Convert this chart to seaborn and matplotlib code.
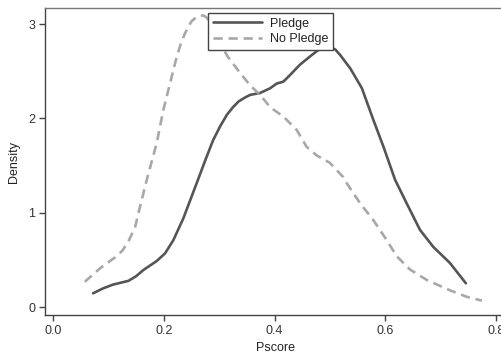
import numpy as np
import pandas as pd
import matplotlib
matplotlib.use("Agg")
import matplotlib.pyplot as plt
import seaborn as sns

# Data (kernel density curves)
pledge_x = [0.072, 0.090, 0.108, 0.136, 0.150, 0.163, 0.187, 0.202, 0.217, 0.235, 0.259,
            0.275, 0.289, 0.302, 0.314, 0.325, 0.335, 0.346, 0.356, 0.374, 0.392, 0.404,
            0.416, 0.428, 0.446, 0.467, 0.478, 0.490, 0.500, 0.510, 0.519, 0.537, 0.558,
            0.579, 0.597, 0.618, 0.639, 0.663, 0.687, 0.717, 0.746]
pledge_y = [0.148, 0.20, 0.24, 0.28, 0.33, 0.395, 0.49, 0.57, 0.71, 0.94, 1.31,
            1.56, 1.77, 1.92, 2.04, 2.12, 2.18, 2.22, 2.25, 2.27, 2.32, 2.37,
            2.39, 2.46, 2.57, 2.67, 2.72, 2.75, 2.76, 2.73, 2.67, 2.53, 2.32,
            1.98, 1.70, 1.35, 1.10, 0.82, 0.64, 0.47, 0.254]

nopledge_x = [0.057, 0.084, 0.112, 0.125, 0.136, 0.148, 0.157, 0.169, 0.187, 0.199, 0.211,
              0.223, 0.231, 0.238, 0.245, 0.250, 0.258, 0.265, 0.272, 0.277, 0.286, 0.295,
              0.305, 0.316, 0.338, 0.356, 0.374, 0.392, 0.416, 0.440, 0.458, 0.476, 0.500,
              0.524, 0.531, 0.555, 0.579, 0.603, 0.621, 0.645, 0.675, 0.717, 0.748, 0.775]
nopledge_y = [0.27, 0.41, 0.53, 0.60, 0.70, 0.85, 1.07, 1.35, 1.74, 2.09, 2.37,
              2.65, 2.80, 2.90, 2.98, 3.03, 3.07, 3.09, 3.09, 3.07, 3.00, 2.88,
              2.76, 2.65, 2.48, 2.35, 2.25, 2.12, 2.02, 1.88, 1.70, 1.61, 1.53,
              1.38, 1.31, 1.10, 0.92, 0.71, 0.54, 0.40, 0.29, 0.18, 0.11, 0.07]

groups = ["Pledge", "No Pledge"]
x_ticks = [0.0, 0.2, 0.4, 0.6, 0.8]
y_ticks = [0, 1, 2, 3]

df = pd.concat([
    pd.DataFrame({"Pscore": pledge_x, "Density": pledge_y, "group": groups[0]}),
    pd.DataFrame({"Pscore": nopledge_x, "Density": nopledge_y, "group": groups[1]}),
], ignore_index=True)

sns.set_style("white")
plt.rcParams["font.family"] = ["Liberation Sans", "DejaVu Sans"]

fig = plt.figure(figsize=(5.02, 3.61), dpi=100)
ax = fig.add_axes([0.0896, 0.1274, 0.92, 0.8496])

palette = {"Pledge": "#555555", "No Pledge": "#a8a8a8"}
dashes = {"Pledge": "", "No Pledge": (3.5, 2.2)}
sns.lineplot(data=df, x="Pscore", y="Density", hue="group", style="group",
             palette=palette, dashes=dashes, sort=False, linewidth=1.9,
             estimator=None, ax=ax)

ax.set_xlim(-0.015, 0.820)
ax.set_ylim(-0.082, 3.167)
ax.set_xticks(x_ticks)
ax.set_xticklabels([f"{t:.1f}" for t in x_ticks])
ax.set_yticks(y_ticks)
ax.set_yticklabels([str(t) for t in y_ticks])
ax.set_xlabel("Pscore", fontsize=9, color="#222222", labelpad=4)
ax.set_ylabel("Density", fontsize=9, color="#222222", labelpad=6)
ax.tick_params(axis="both", which="both", direction="out", length=4, width=1,
               color="#444444", labelsize=9, labelcolor="#333333", pad=3)
ax.tick_params(axis="x", bottom=True)
ax.tick_params(axis="y", left=True)

for side in ["left", "top", "bottom"]:
    ax.spines[side].set_visible(True)
    ax.spines[side].set_color("#444444")
    ax.spines[side].set_linewidth(1.0)
ax.spines["top"].set_color("#777777")
ax.spines["right"].set_visible(False)

handles, labels = ax.get_legend_handles_labels()
leg = ax.legend(handles, labels, loc="upper left", bbox_to_anchor=(0.354, 0.984),
                borderaxespad=0, fontsize=9, frameon=True, fancybox=False,
                framealpha=1, edgecolor="#444444", handlelength=3.9,
                handletextpad=0.7, labelspacing=0.3, borderpad=0.35)
leg.get_frame().set_linewidth(1.0)
for t in leg.get_texts():
    t.set_color("#222222")

fig.savefig("out.png", dpi=100)
